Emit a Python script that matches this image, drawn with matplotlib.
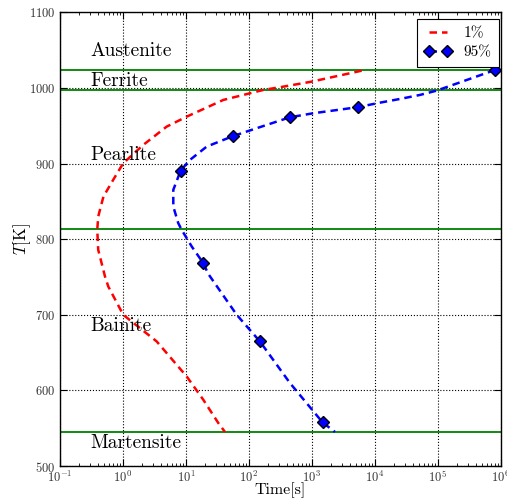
import matplotlib
matplotlib.use("Agg")
import matplotlib.pyplot as plt
from matplotlib.ticker import LogLocator, MultipleLocator, NullFormatter

plt.rcParams["font.family"] = "serif"
plt.rcParams["font.serif"] = ["cmr10"]
plt.rcParams["mathtext.fontset"] = "cm"
plt.rcParams["axes.formatter.use_mathtext"] = True

# 1 % transformation curve (time in s, temperature in K)
t_1 = [6195, 995, 312, 169, 39.3, 10.3, 4.95, 2.1, 1.01, 0.70, 0.49, 0.405,
       0.391, 0.405, 0.519, 0.585, 1.01, 3.44, 10.3, 18.9, 32.7, 41.8]
T_1 = [1022.8, 1008.3, 1000.9, 997.3, 984.1, 962.0, 948.8, 924.6, 900.4,
       878.4, 856.3, 829.9, 812.3, 785.9, 750.6, 737.4, 700.0, 664.7, 618.4,
       587.6, 556.9, 545.0]

# 95 % transformation curve
t_95 = [8.11e5, 9.61e4, 5.22e4, 2.51e4, 1.21e4, 5350, 1055, 450, 133, 55.3,
        21.4, 11.6, 8.26, 6.31, 6.31, 7.56, 8.57, 12.4, 18.9, 22.6, 64.1, 150,
        450, 1486, 2333]
T_95 = [1023.7, 996.4, 990.7, 985.4, 980.5, 974.5, 966.5, 961.2, 946.7,
        936.1, 922.4, 904.8, 890.7, 865.2, 843.1, 821.2, 812.3, 790.2, 768.3,
        754.2, 700.0, 664.7, 609.7, 557.6, 545.0]
marked_95 = [0, 5, 7, 9, 12, 18, 21, 23]

# phase boundary temperatures
boundaries = [1023.4, 996.9, 813.6, 544.4]

# phase names and their label heights
phases = ["Austenite", "Ferrite", "Pearlite", "Bainite", "Martensite"]
phase_T = [1042.6, 1002.6, 904.8, 678.8, 523.8]

fig = plt.figure(figsize=(5.07, 5.0), dpi=100)
ax = fig.add_axes([0.1183, 0.068, 0.8692, 0.9074])

ax.set_xscale("log")
ax.set_xlim(1e-1, 1e6)
ax.set_ylim(500, 1100)

ax.grid(True, which="major", color="k", linestyle=":", linewidth=0.8)
ax.set_axisbelow(True)

for Tb in boundaries:
    ax.axhline(Tb, color=(0, 0.5, 0), linewidth=1.3, zorder=2)

dash = (0, (3.0, 2.0))
ax.plot(t_1, T_1, color="r", linestyle=dash, linewidth=1.8,
        label="1%", zorder=3)
ax.plot(t_95, T_95, color="b", linestyle=dash, linewidth=1.8,
        marker="D", markersize=6.5, markerfacecolor="b",
        markeredgecolor="k", markeredgewidth=1.0, markevery=marked_95,
        label="95%", zorder=4)

for name, T in zip(phases, phase_T):
    ax.text(0.3, T, name, fontsize=14, ha="left", va="baseline", zorder=5)

ax.xaxis.set_major_locator(LogLocator(base=10, numticks=10))
ax.xaxis.set_minor_locator(LogLocator(base=10, subs=range(2, 10), numticks=100))
ax.xaxis.set_minor_formatter(NullFormatter())
ax.yaxis.set_major_locator(MultipleLocator(100))

ax.tick_params(which="both", direction="in", top=True, right=True,
               labelsize=9, labelcolor="#333333")
ax.tick_params(which="major", length=5, width=0.8)
ax.tick_params(which="minor", length=2.5, width=0.6)
ax.tick_params(axis="x", which="major", pad=2.5)
for s in ax.spines.values():
    s.set_linewidth(1.0)

ax.set_xlabel("Time[s]", fontsize=11.5, labelpad=-2)
ax.set_ylabel("$T$[K]", fontsize=12, labelpad=-3)

leg = ax.legend(loc="upper right", bbox_to_anchor=(0.9966, 0.9846),
                borderaxespad=0, numpoints=2, fontsize=11, fancybox=False,
                framealpha=1, edgecolor="k", handlelength=1.82,
                handletextpad=0.75, labelspacing=0.35, borderpad=0.5)
leg.get_frame().set_linewidth(0.8)

fig.savefig("out.png", dpi=100, facecolor="white")
